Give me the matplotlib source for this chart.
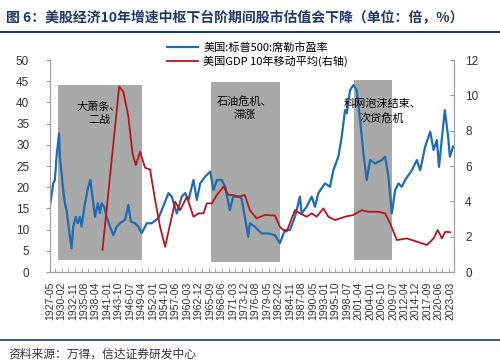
import numpy as np
import matplotlib
matplotlib.use("Agg")
import matplotlib.pyplot as plt
from matplotlib.lines import Line2D

plt.rcParams["font.family"] = ["Liberation Sans", "Noto Sans CJK SC"]
cjk = ["Noto Sans CJK SC", "DejaVu Sans"]

# Shiller CAPE (left axis)
cape_year = [1927.3, 1928.1, 1928.5, 1928.9, 1929.5, 1929.7, 1930.1, 1930.5, 1930.9, 1931.3,
             1931.7, 1932.1, 1932.5, 1932.9, 1933.5, 1934.0, 1934.5, 1934.9, 1935.7, 1936.5,
             1937.0, 1937.5, 1938.1, 1938.8, 1939.3, 1939.7, 1940.3, 1940.9, 1941.7, 1942.5,
             1943.3, 1944.1, 1945.3, 1946.1, 1946.7, 1947.7, 1948.5, 1949.3, 1950.1, 1950.5,
             1951.7, 1953.3, 1954.1, 1955.7, 1956.5, 1957.7, 1958.9, 1959.7, 1960.5, 1961.7,
             1962.5, 1963.3, 1964.5, 1965.7, 1966.5, 1967.3, 1968.5, 1969.3, 1970.4, 1971.2,
             1972.4, 1973.2, 1974.0, 1974.8, 1975.2, 1976.4, 1978.0, 1979.6, 1981.2, 1982.4,
             1983.6, 1984.8, 1986.0, 1987.2, 1987.6, 1988.8, 1990.0, 1990.8, 1991.6, 1993.2,
             1994.4, 1995.2, 1996.4, 1997.2, 1998.0, 1998.4, 1999.2, 2000.0, 2000.8, 2001.6,
             2002.4, 2003.2, 2004.0, 2005.2, 2006.8, 2007.6, 2008.4, 2009.2, 2010.0, 2010.8,
             2011.6, 2012.4, 2014.0, 2015.2, 2016.0, 2017.2, 2018.4, 2019.2, 2020.0, 2020.5,
             2021.9, 2022.7, 2023.1, 2023.9]
cape_value = [15.4, 20.9, 21.7, 27.2, 32.7, 27.2, 23.3, 19.3, 16.2, 14.6,
              11.5, 8.3, 5.6, 10.7, 13.0, 11.5, 13.0, 10.7, 16.2, 20.1,
              21.7, 17.8, 13.0, 16.2, 13.9, 16.2, 15.4, 13.0, 10.7, 8.7,
              10.7, 11.5, 12.3, 15.8, 11.9, 11.5, 10.7, 9.2, 10.7, 11.5,
              11.5, 12.7, 14.6, 18.6, 17.8, 13.8, 17.8, 18.6, 17.0, 21.7,
              17.0, 20.9, 22.5, 23.7, 19.3, 21.7, 21.7, 20.1, 14.6, 17.8,
              17.8, 17.4, 13.0, 8.3, 11.5, 10.7, 9.1, 9.1, 8.7, 6.8,
              9.9, 9.9, 13.0, 17.8, 13.8, 15.4, 17.8, 15.4, 18.6, 20.9,
              20.1, 24.0, 27.2, 31.9, 38.2, 37.4, 42.9, 44.1, 42.9, 35.8,
              28.0, 21.7, 26.4, 25.6, 26.4, 27.2, 22.5, 13.8, 19.3, 20.9,
              20.1, 21.7, 24.0, 26.4, 24.0, 29.6, 33.1, 28.8, 31.1, 24.8,
              38.2, 31.9, 27.2, 29.6]

# US GDP 10-year moving average (right axis)
gdp_year = [1939.9, 1943.9, 1944.9, 1946.1, 1947.1, 1947.9, 1948.9, 1950.1, 1951.3, 1952.5,
            1953.7, 1954.9, 1956.5, 1957.3, 1958.5, 1960.1, 1961.7, 1962.9, 1964.1, 1964.9,
            1966.1, 1967.3, 1968.9, 1970.1, 1971.3, 1972.4, 1974.0, 1975.2, 1976.8, 1978.8,
            1981.2, 1982.4, 1983.2, 1984.0, 1986.0, 1987.2, 1988.8, 1990.0, 1991.2, 1992.8,
            1994.0, 1995.6, 1998.0, 2000.0, 2002.0, 2003.6, 2006.0, 2007.6, 2008.8, 2010.4,
            2012.8, 2015.2, 2017.6, 2019.2, 2020.2, 2021.2, 2022.0, 2023.2]
gdp_value = [1.25, 10.5, 10.2, 8.8, 6.7, 6.05, 6.8, 5.9, 5.8, 4.08,
             2.56, 1.43, 3.13, 3.98, 3.5, 4.26, 3.13, 3.32, 3.32, 3.89,
             3.89, 4.36, 4.83, 4.36, 4.36, 4.26, 4.36, 3.5, 3.04, 3.23,
             3.2, 2.56, 2.38, 2.28, 3.5, 3.32, 3.13, 3.32, 3.13, 3.6,
             3.13, 2.94, 3.13, 3.23, 3.5, 3.41, 3.41, 3.32, 2.76, 1.81,
             1.9, 1.72, 1.53, 1.9, 2.38, 1.9, 2.28, 2.25]

# shaded periods: start, end, bottom, top (left axis units)
shade_start = [1929.3, 1965.9, 2000.2]
shade_end = [1949.3, 1982.4, 2009.2]
shade_low = [2.8, 2.3, 2.8]
shade_high = [44.1, 44.8, 45.4]
shade_text = ["大萧条、\n二战", "石油危机、\n滞涨", "科网泡沫结束、\n次贷危机"]
text_x = [1939.1, 1974.0, 2006.9]
text_y = [37.5, 38.7, 37.9]

tick_labels = ["1927-05", "1930-02", "1932-11", "1935-08", "1938-04", "1941-01", "1943-10",
               "1946-07", "1949-04", "1952-01", "1954-10", "1957-06", "1960-03", "1962-12",
               "1965-09", "1968-06", "1971-03", "1973-12", "1976-08", "1979-05", "1982-02",
               "1984-11", "1987-08", "1990-05", "1993-01", "1995-10", "1998-07", "2001-04",
               "2004-01", "2006-10", "2009-07", "2012-04", "2014-12", "2017-09", "2020-06",
               "2023-03"]
tick_pos = [int(s[:4]) + (int(s[5:]) - 1) / 12 for s in tick_labels]

blue = "#1f6cb0"
red = "#b4161e"
grey = "#a9a9a9"
navy = "#1f3864"

fig = plt.figure(figsize=(5, 3.64), dpi=100)
ax = fig.add_axes([0.10, 0.2527, 0.808, 0.5824])
ax2 = ax.twinx()

# grey periods and the blue line sit on the left axis; the red line is drawn above them
for x0, x1, lo, hi in zip(shade_start, shade_end, shade_low, shade_high):
    ax.fill_between([x0, x1], lo, hi, color=grey, lw=0, zorder=1)
ax.plot(cape_year, cape_value, color=blue, lw=1.6, zorder=3)
ax2.plot(gdp_year, gdp_value, color=red, lw=1.3, zorder=3)
for t, x, y in zip(shade_text, text_x, text_y):
    ax2.text(x, y * 12 / 50, t, ha="center", va="center", fontsize=8, family=cjk,
             fontweight="medium", linespacing=1.35, zorder=5)

xmin, xmax = 1927.33, 2024.1
ax.set_xlim(xmin, xmax)
ax.set_ylim(0, 50)
ax2.set_ylim(0, 12)
ax.set_yticks(np.arange(0, 51, 5))
ax2.set_yticks(np.arange(0, 13, 2))
ax.set_xticks(tick_pos)
ax.set_xticklabels(tick_labels, rotation=90, fontsize=7.5, color="#333333")
ax.set_xticks(np.arange(1928.5, 2024, 1.6), minor=True)
ax.tick_params(axis="x", which="major", length=0, pad=7)
ax.tick_params(axis="x", which="minor", direction="in", length=3, color="#999999")
ax.tick_params(axis="y", direction="out", length=3, pad=12, labelsize=8.5,
               labelcolor="#333333", color="#999999")
ax2.tick_params(axis="y", direction="in", length=3, pad=8, labelsize=8.5,
                labelcolor="#333333", color="#999999")

for a in (ax, ax2):
    a.spines["top"].set_visible(False)
    for s in ("left", "right", "bottom"):
        a.spines[s].set_color("#a0a0a0")
        a.spines[s].set_linewidth(0.8)

handles = [Line2D([], [], color=blue, lw=1.6), Line2D([], [], color=red, lw=1.3)]
fig.legend(handles, ["美国:标普500:席勒市盈率", "美国GDP 10年移动平均(右轴)"],
           loc="upper left", bbox_to_anchor=(0.333, 0.885), frameon=False,
           prop={"family": cjk, "size": 8}, handlelength=2.8, labelspacing=0.3,
           borderpad=0, borderaxespad=0, handletextpad=0.5)

fig.text(0.012, 1 - 18 / 364, "图 6：美股经济10年增速中枢下台阶期间股市估值会下降（单位：倍，%）",
         fontsize=10, fontweight="bold", color=navy, family=cjk, va="center")
fig.add_artist(Line2D([0, 1], [1 - 32 / 364] * 2, color=navy, lw=1.5))
fig.add_artist(Line2D([0, 1], [1 - 340 / 364] * 2, color=navy, lw=1.2))
fig.text(0.016, 1 - 354 / 364, "资料来源：万得，信达证券研发中心", fontsize=8.5,
         style="italic", color="#333333", family=cjk, va="center")

fig.savefig("out.png", dpi=100)
